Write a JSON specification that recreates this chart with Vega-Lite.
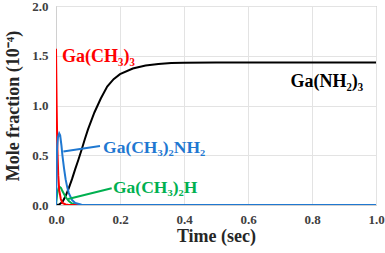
{
  "$schema": "https://vega.github.io/schema/vega-lite/v6.json",
  "width": 320,
  "height": 199,
  "autosize": {"type": "none"},
  "padding": {"left": 56, "top": 6, "right": 9, "bottom": 48},
  "background": "white",
  "config": {
    "view": {"stroke": "#a6a6a6", "strokeWidth": 1},
    "axis": {
      "labelFont": "Liberation Serif", "labelFontWeight": "bold", "labelFontSize": 13, "labelColor": "#404040",
      "titleFont": "Liberation Serif", "titleFontWeight": "bold", "titleFontSize": 18, "titleColor": "#262626",
      "gridColor": "#e3e3e3", "domainColor": "#d0d0d0", "ticks": false, "labelFlush": false
    }
  },
  "datasets": {
    "curves": [
      {"s": "Ga(NH2)3", "t": 0, "v": 0},
      {"s": "Ga(NH2)3", "t": 0.01, "v": 0.005},
      {"s": "Ga(NH2)3", "t": 0.02, "v": 0.03},
      {"s": "Ga(NH2)3", "t": 0.03, "v": 0.09},
      {"s": "Ga(NH2)3", "t": 0.04, "v": 0.17},
      {"s": "Ga(NH2)3", "t": 0.05, "v": 0.26},
      {"s": "Ga(NH2)3", "t": 0.06, "v": 0.36},
      {"s": "Ga(NH2)3", "t": 0.07, "v": 0.455},
      {"s": "Ga(NH2)3", "t": 0.08, "v": 0.555},
      {"s": "Ga(NH2)3", "t": 0.09, "v": 0.66},
      {"s": "Ga(NH2)3", "t": 0.1, "v": 0.76},
      {"s": "Ga(NH2)3", "t": 0.12, "v": 0.93},
      {"s": "Ga(NH2)3", "t": 0.14, "v": 1.07},
      {"s": "Ga(NH2)3", "t": 0.16, "v": 1.19},
      {"s": "Ga(NH2)3", "t": 0.18, "v": 1.265},
      {"s": "Ga(NH2)3", "t": 0.2, "v": 1.315},
      {"s": "Ga(NH2)3", "t": 0.24, "v": 1.372},
      {"s": "Ga(NH2)3", "t": 0.28, "v": 1.402},
      {"s": "Ga(NH2)3", "t": 0.32, "v": 1.418},
      {"s": "Ga(NH2)3", "t": 0.36, "v": 1.426},
      {"s": "Ga(NH2)3", "t": 0.4, "v": 1.43},
      {"s": "Ga(NH2)3", "t": 0.5, "v": 1.432},
      {"s": "Ga(NH2)3", "t": 1.0, "v": 1.432},
      {"s": "Ga(CH3)2H", "t": 0, "v": 0},
      {"s": "Ga(CH3)2H", "t": 0.004, "v": 0.12},
      {"s": "Ga(CH3)2H", "t": 0.008, "v": 0.17},
      {"s": "Ga(CH3)2H", "t": 0.012, "v": 0.18},
      {"s": "Ga(CH3)2H", "t": 0.016, "v": 0.17},
      {"s": "Ga(CH3)2H", "t": 0.02, "v": 0.14},
      {"s": "Ga(CH3)2H", "t": 0.03, "v": 0.08},
      {"s": "Ga(CH3)2H", "t": 0.04, "v": 0.04},
      {"s": "Ga(CH3)2H", "t": 0.05, "v": 0.015},
      {"s": "Ga(CH3)2H", "t": 0.07, "v": 0.003},
      {"s": "Ga(CH3)2H", "t": 0.1, "v": 0},
      {"s": "Ga(CH3)2H", "t": 1.0, "v": 0},
      {"s": "Ga(CH3)3", "t": 0, "v": 1.57},
      {"s": "Ga(CH3)3", "t": 0.002, "v": 1.0},
      {"s": "Ga(CH3)3", "t": 0.004, "v": 0.6},
      {"s": "Ga(CH3)3", "t": 0.007, "v": 0.3},
      {"s": "Ga(CH3)3", "t": 0.01, "v": 0.15},
      {"s": "Ga(CH3)3", "t": 0.015, "v": 0.06},
      {"s": "Ga(CH3)3", "t": 0.02, "v": 0.02},
      {"s": "Ga(CH3)3", "t": 0.03, "v": 0.005},
      {"s": "Ga(CH3)3", "t": 0.04, "v": 0},
      {"s": "Ga(CH3)3", "t": 1.0, "v": 0},
      {"s": "Ga(CH3)2NH2", "t": 0, "v": 0},
      {"s": "Ga(CH3)2NH2", "t": 0.003, "v": 0.55},
      {"s": "Ga(CH3)2NH2", "t": 0.006, "v": 0.68},
      {"s": "Ga(CH3)2NH2", "t": 0.01, "v": 0.72},
      {"s": "Ga(CH3)2NH2", "t": 0.013, "v": 0.7},
      {"s": "Ga(CH3)2NH2", "t": 0.017, "v": 0.6},
      {"s": "Ga(CH3)2NH2", "t": 0.02, "v": 0.5},
      {"s": "Ga(CH3)2NH2", "t": 0.025, "v": 0.37},
      {"s": "Ga(CH3)2NH2", "t": 0.03, "v": 0.26},
      {"s": "Ga(CH3)2NH2", "t": 0.035, "v": 0.18},
      {"s": "Ga(CH3)2NH2", "t": 0.04, "v": 0.12},
      {"s": "Ga(CH3)2NH2", "t": 0.05, "v": 0.05},
      {"s": "Ga(CH3)2NH2", "t": 0.06, "v": 0.02},
      {"s": "Ga(CH3)2NH2", "t": 0.08, "v": 0.003},
      {"s": "Ga(CH3)2NH2", "t": 0.1, "v": 0},
      {"s": "Ga(CH3)2NH2", "t": 1.0, "v": 0}
    ],
    "labels": [
      {"s": "Ga(CH3)3", "label": "Ga(CH₃)₃", "t": 0.019, "v": 1.49, "size": 18},
      {"s": "Ga(CH3)2NH2", "label": "Ga(CH₃)₂NH₂", "t": 0.147, "v": 0.575, "size": 17.5},
      {"s": "Ga(CH3)2H", "label": "Ga(CH₃)₂H", "t": 0.178, "v": 0.17, "size": 17.5}
    ],
    "rlabels": [
      {"s": "Ga(NH2)3", "label": "Ga(NH₂)₃", "t": 0.96, "v": 1.24, "size": 18}
    ],
    "leaders": [
      {"s": "Ga(CH3)2NH2", "t": 0.023, "v": 0.537, "t2": 0.1375, "v2": 0.593},
      {"s": "Ga(CH3)2H", "t": 0.038, "v": 0.06, "t2": 0.174, "v2": 0.168}
    ]
  },
  "layer": [
    {
      "data": {"name": "curves"},
      "mark": {"type": "line", "strokeWidth": 2, "clip": true},
      "encoding": {
        "x": {"field": "t", "type": "quantitative", "scale": {"domain": [0, 1]},
              "axis": {"title": "Time (sec)", "values": [0, 0.2, 0.4, 0.6, 0.8, 1.0], "format": ".1f", "labelPadding": 8, "titlePadding": 1}},
        "y": {"field": "v", "type": "quantitative", "scale": {"domain": [0, 2]},
              "axis": {"title": "Mole fraction (10⁻⁴)", "values": [0, 0.5, 1.0, 1.5, 2.0], "format": ".1f", "labelPadding": 8, "titlePadding": 9}},
        "color": {"field": "s", "type": "nominal", "legend": null,
                  "scale": {"domain": ["Ga(NH2)3", "Ga(CH3)2H", "Ga(CH3)3", "Ga(CH3)2NH2"], "range": ["#000000", "#00b050", "#ff0000", "#1f78d1"]}},
        "order": {"field": "t", "type": "quantitative"},
        "detail": {"field": "s"}
      }
    },
    {
      "data": {"name": "leaders"},
      "mark": {"type": "rule", "strokeWidth": 2},
      "encoding": {
        "x": {"field": "t", "type": "quantitative"},
        "y": {"field": "v", "type": "quantitative"},
        "x2": {"field": "t2"},
        "y2": {"field": "v2"},
        "color": {"field": "s", "type": "nominal", "legend": null}
      }
    },
    {
      "data": {"name": "labels"},
      "mark": {"type": "text", "font": "Liberation Serif", "fontWeight": "bold", "baseline": "middle", "align": "left"},
      "encoding": {
        "x": {"field": "t", "type": "quantitative"},
        "y": {"field": "v", "type": "quantitative"},
        "text": {"field": "label"},
        "size": {"field": "size", "type": "quantitative", "scale": null},
        "color": {"field": "s", "type": "nominal", "legend": null}
      }
    },
    {
      "data": {"name": "rlabels"},
      "mark": {"type": "text", "font": "Liberation Serif", "fontWeight": "bold", "baseline": "middle", "align": "right"},
      "encoding": {
        "x": {"field": "t", "type": "quantitative"},
        "y": {"field": "v", "type": "quantitative"},
        "text": {"field": "label"},
        "size": {"field": "size", "type": "quantitative", "scale": null},
        "color": {"field": "s", "type": "nominal", "legend": null}
      }
    }
  ]
}
